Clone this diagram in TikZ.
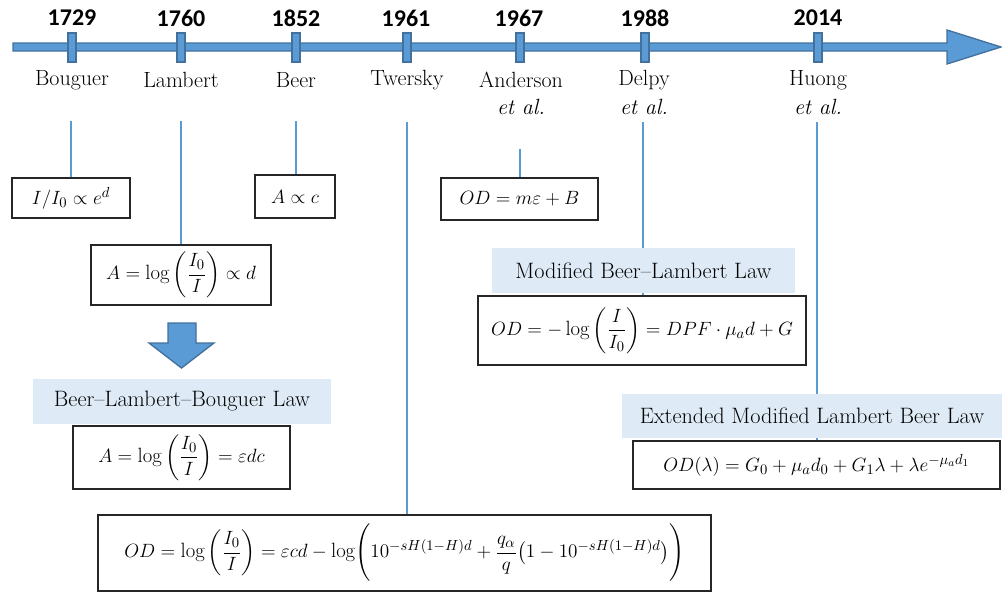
\documentclass[tikz,border=0pt]{standalone}
\usepackage{amsmath}
\usepackage{fontspec}
\newfontfamily\yearfont{Carlito}
\definecolor{tlblue}{HTML}{5B9BD5}
\definecolor{tledge}{HTML}{41719C}
\definecolor{lblfill}{HTML}{DEEBF7}
\begin{document}
\begin{tikzpicture}[x=0.75pt,y=-0.75pt,
  tl/.style={fill=tlblue,draw=tledge,line width=1pt,line join=miter},
  tickbox/.style={fill=tlblue,draw=tledge,line width=1pt,minimum width=6pt,minimum height=21.75pt,inner sep=0pt},
  yearlbl/.style={font=\yearfont\bfseries\fontsize{18}{20}\selectfont,inner sep=0pt},
  personlbl/.style={font=\rmfamily\fontsize{16.5}{20}\selectfont,inner sep=0pt},
  etallbl/.style={font=\rmfamily\fontsize{16.5}{20}\selectfont\itshape,inner sep=0pt},
  conn/.style={draw=tlblue,line width=0.8pt},
  eqbox/.style={draw=black!85,line width=0.9pt,fill=white,inner sep=0pt,font=\rmfamily\fontsize{15.5}{18}\selectfont},
  lawlbl/.style={fill=lblfill,inner sep=0pt,font=\rmfamily\fontsize{16.7}{20}\selectfont}]
\useasboundingbox (0,0) rectangle (1002,593);
% timeline
\draw[tl] (13,43) -- (947,43) -- (947,30) -- (1001,47) -- (947,64) -- (947,51) -- (13,51) -- cycle;
\node[tickbox] (k1) at (72,47.5) {};
\node[tickbox] (k2) at (181,47.5) {};
\node[tickbox] (k3) at (296,47.5) {};
\node[tickbox] (k4) at (407,47.5) {};
\node[tickbox] (k5) at (520,47.5) {};
\node[tickbox] (k6) at (645,47.5) {};
\node[tickbox] (k7) at (818,47.5) {};
\node[yearlbl] (y1) at (72,18) {1729};
\node[yearlbl] (y2) at (181,18) {1760};
\node[yearlbl] (y3) at (296,18) {1852};
\node[yearlbl] (y4) at (406,18) {1961};
\node[yearlbl] (y5) at (519,18) {1967};
\node[yearlbl] (y6) at (645,18) {1988};
\node[yearlbl] (y7) at (818,18) {2014};
\node[personlbl] (n1) at (72,80) {Bouguer};
\node[personlbl] (n2) at (181,80) {Lambert};
\node[personlbl] (n3) at (296,80) {Beer};
\node[personlbl] (n4) at (407,80) {Twersky};
\node[personlbl] (n5) at (521,80) {Anderson};
\node[personlbl] (n6) at (644,80) {Delpy};
\node[personlbl] (n7) at (818,80) {Huong};
\node[etallbl] (e5) at (521,107) {et al.};
\node[etallbl] (e6) at (644,107) {et al.};
\node[etallbl] (e7) at (818,107) {et al.};
% connector tops
\coordinate (c1) at (71,121);
\coordinate (c2) at (181,121);
\coordinate (c3) at (296,121);
\coordinate (c4) at (407,122);
\coordinate (c5) at (520,149);
\coordinate (c6) at (643,122);
\coordinate (c7) at (817,122);
% boxes
\node[eqbox,minimum width=88.5pt,minimum height=30pt] (b1) at (71,198) {$I/I_0 \propto e^{d}$};
\node[eqbox,minimum width=60pt,minimum height=32.25pt] (b2) at (295,196.5) {$A \propto c$};
\node[eqbox,minimum width=135pt,minimum height=45pt] (b3) at (181,275) {$A = \log\left(\dfrac{I_0}{I}\right) \propto d$};
\node[eqbox,minimum width=117.75pt,minimum height=31.5pt] (b5) at (519.5,199) {$OD = m\varepsilon + B$};
\node[eqbox,minimum width=246pt,minimum height=51.75pt] (b6) at (642,330.5) {$OD = -\log\left(\dfrac{I}{I_0}\right) = DPF\cdot\mu_a d + G$};
\node[eqbox,minimum width=275.25pt,minimum height=36pt] (b7) at (816.5,465) {$OD(\lambda) = G_0 + \mu_a d_0 + G_1\lambda + \lambda e^{-\mu_a d_1}$};
\node[eqbox,minimum width=162.75pt,minimum height=47.25pt] (b4) at (181.5,457.5) {$A = \log\left(\dfrac{I_0}{I}\right) = \varepsilon dc$};
\node[eqbox,minimum width=459.75pt,minimum height=57pt] (b8) at (404.5,553) {$OD = \log\left(\dfrac{I_0}{I}\right) = \varepsilon cd - \log\Biggl(10^{-sH(1-H)d} + \dfrac{q_\alpha}{q}\bigl(1-10^{-sH(1-H)d}\bigr)\Biggr)$};
% connectors
\draw[conn] (c1) -- (c1 |- b1.north);
\draw[conn] (c2) -- (c2 |- b3.north);
\draw[conn] (c3) -- (c3 |- b2.north);
\draw[conn] (c4) -- (c4 |- b8.north);
\draw[conn] (c5) -- (c5 |- b5.north);
\draw[conn] (c6) -- (c6 |- b6.north);
\draw[conn] (c7) -- (c7 |- b7.north);
% law labels
\node[lawlbl,minimum width=223.5pt,minimum height=33.75pt] (l1) at (182,401.5) {Beer--Lambert--Bouguer Law};
\node[lawlbl,minimum width=227.25pt,minimum height=33.75pt] (l2) at (643.5,270.5) {Modified Beer--Lambert Law};
\node[lawlbl,minimum width=285pt,minimum height=33pt] (l3) at (812,416) {Extended Modified Lambert Beer Law};
% down arrow
\draw[tl] (168,323) -- (196,323) -- (196,343) -- (214,343) -- (181.5,368) -- (149,343) -- (168,343) -- cycle;
\end{tikzpicture}
\end{document}
